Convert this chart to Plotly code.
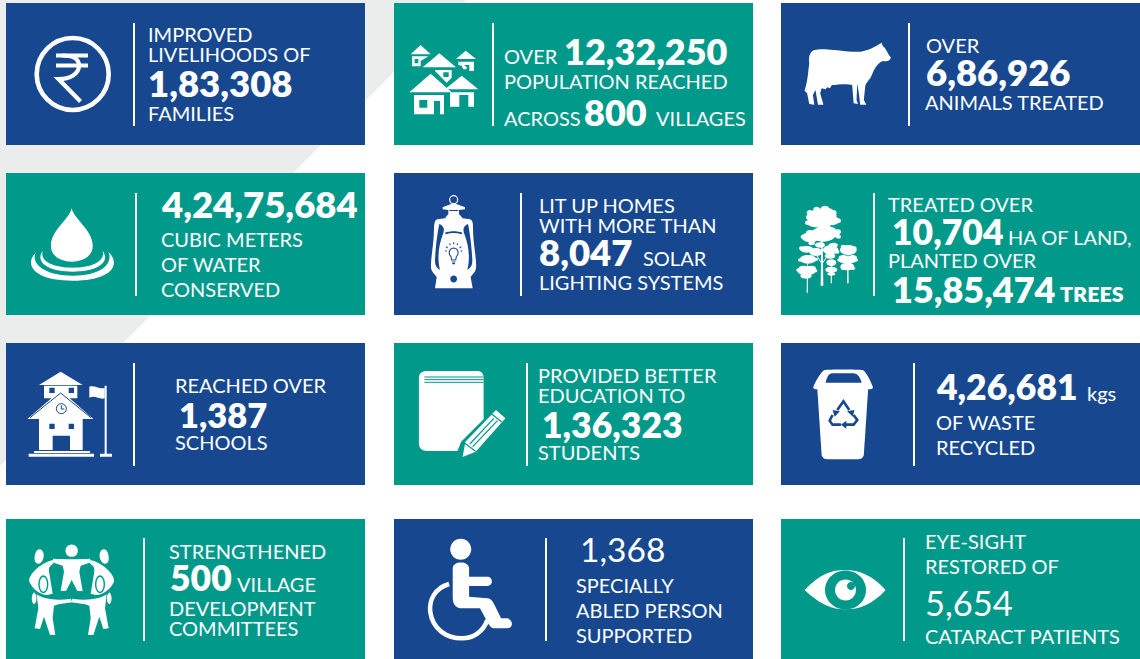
import re
import plotly.graph_objects as go

# ---------- content ----------
LIVELIHOOD_TEXT = ["IMPROVED", "LIVELIHOODS OF", "1,83,308", "FAMILIES"]
POPULATION_TEXT = ["OVER", "12,32,250", "POPULATION REACHED", "ACROSS", "800", "VILLAGES"]
ANIMAL_TEXT = ["OVER", "6,86,926", "ANIMALS TREATED"]
WATER_TEXT = ["4,24,75,684", "CUBIC METERS", "OF WATER", "CONSERVED"]
SOLAR_TEXT = ["LIT UP HOMES", "WITH MORE THAN", "8,047", "SOLAR", "LIGHTING SYSTEMS"]
LAND_TEXT = ["TREATED OVER", "10,704", "HA OF LAND,", "PLANTED OVER", "15,85,474", "TREES"]
SCHOOL_TEXT = ["REACHED OVER", "1,387", "SCHOOLS"]
EDUCATION_TEXT = ["PROVIDED BETTER", "EDUCATION TO", "1,36,323", "STUDENTS"]
WASTE_TEXT = ["4,26,681", "kgs", "OF WASTE", "RECYCLED"]
COMMITTEE_TEXT = ["STRENGTHENED", "500", "VILLAGE", "DEVELOPMENT", "COMMITTEES"]
ABLED_TEXT = ["1,368", "SPECIALLY", "ABLED PERSON", "SUPPORTED"]
EYE_TEXT = ["EYE-SIGHT", "RESTORED OF", "5,654", "CATARACT PATIENTS"]

TILE_TEXTS = [LIVELIHOOD_TEXT, POPULATION_TEXT, ANIMAL_TEXT, WATER_TEXT, SOLAR_TEXT, LAND_TEXT,
              SCHOOL_TEXT, EDUCATION_TEXT, WASTE_TEXT, COMMITTEE_TEXT, ABLED_TEXT, EYE_TEXT]

# ---------- styling / layout (pixels) ----------
BLUE, TEAL, GREY, WHITE = "#17488f", "#00998a", "#ebecec", "#ffffff"
FONT = "Lato"
COL_X = [(6, 365), (394, 753), (781, 1140)]
ROW_Y = [(3, 145), (173, 315), (343, 485), (519, 659)]
TILE_COLORS = [BLUE, TEAL, BLUE, TEAL, BLUE, TEAL, BLUE, TEAL, BLUE, TEAL, BLUE, TEAL]
SEPARATOR_X = [134, 493, 909, 136, 521, 874, 134, 527, 914, 144, 546, 904]
SEPARATOR_Y = [(23, 126), (193, 296), (363, 466), (538, 641)]

R, B = 400, 800
C = 20
TEXT_POS = [
    [(149, 35, C, R), (149, 55, C, R), (149, 84, 36.5, B), (149, 114, C, R)],
    [(505, 57, C, R), (565, 52, 36, B), (505, 82, C, R), (505, 119, C, R), (585, 113, 36, B), (657, 119, C, R)],
    [(927, 46, C, R), (927, 73, 36.5, B), (926, 103, C, R)],
    [(162, 205, 36.5, B), (162, 240, C, R), (162, 265, C, R), (162, 290, C, R)],
    [(540, 206, C, R), (540, 226, C, R), (540, 253, 36.5, B), (644, 259, C, R), (540, 283, C, R)],
    [(889, 205, C, R), (893, 232, 35.5, B), (1009, 238, C, R), (889, 261, C, R), (893, 290, 36, B), (1061, 295, 21.5, B)],
    [(176, 386, C, R), (180, 415, 34.5, B), (176, 443, C, R)],
    [(539, 376, C, R), (539, 396, C, R), (543, 425, 35.5, B), (539, 453, C, R)],
    [(937, 387, 35.5, B), (1088, 394, C, R), (937, 423, C, R), (937, 448, C, R)],
    [(170, 552, C, R), (171, 578, 35.5, B), (238, 585, C, R), (170, 609, C, R), (170, 629, C, R)],
    [(581, 550, 33.5, R), (577, 586, C, R), (577, 611, C, R), (577, 636, C, R)],
    [(926, 542, C, R), (926, 567, C, R), (926, 603, 34.5, R), (926, 637, C, R)],
]

shapes = []


def to_px(path, ox, oy, sx=1 / 3, sy=1 / 3):
    nums = iter(re.findall(r"[A-Za-z]|-?\d+\.?\d*", path))
    out, pending = [], None
    for tok in nums:
        if tok.isalpha():
            out.append(tok)
        elif pending is None:
            pending = float(tok)
        else:
            out.append(f"{ox + pending * sx:.2f},{oy + float(tok) * sy:.2f}")
            pending = None
    return " ".join(out)


def mirror(path, cx):
    toks = re.findall(r"[A-Za-z]|-?\d+\.?\d*", path)
    out, is_x = [], True
    for t in toks:
        if t.isalpha():
            out.append(t)
        else:
            out.append(str(2 * cx - float(t)) if is_x else t)
            is_x = not is_x
    return " ".join(out)


def fill(path, color=WHITE, rule="evenodd"):
    shapes.append(dict(type="path", path=path, fillcolor=color, line=dict(width=0), fillrule=rule, layer="above"))


def stroke(path, color=WHITE, width=1.0):
    shapes.append(dict(type="path", path=path, fillcolor="rgba(0,0,0,0)", line=dict(color=color, width=width), layer="above"))


def ellipse(cx, cy, rx, ry=None):
    ry = rx if ry is None else ry
    k = 0.5523
    return (f"M {cx - rx:.2f},{cy:.2f} C {cx - rx:.2f},{cy - k * ry:.2f} {cx - k * rx:.2f},{cy - ry:.2f} {cx:.2f},{cy - ry:.2f} "
            f"C {cx + k * rx:.2f},{cy - ry:.2f} {cx + rx:.2f},{cy - k * ry:.2f} {cx + rx:.2f},{cy:.2f} "
            f"C {cx + rx:.2f},{cy + k * ry:.2f} {cx + k * rx:.2f},{cy + ry:.2f} {cx:.2f},{cy + ry:.2f} "
            f"C {cx - k * rx:.2f},{cy + ry:.2f} {cx - rx:.2f},{cy + k * ry:.2f} {cx - rx:.2f},{cy:.2f} Z")


# ---------- background ----------
fill("M 0,0 L 466,0 L 0,466 Z", GREY)
for i, color in enumerate(TILE_COLORS):
    x0, x1 = COL_X[i % 3]
    y0, y1 = ROW_Y[i // 3]
    shapes.append(dict(type="rect", x0=x0, x1=x1, y0=y0, y1=y1, fillcolor=color, line=dict(width=0), layer="above"))
    sep = SEPARATOR_X[i]
    sy0, sy1 = SEPARATOR_Y[i // 3]
    shapes.append(dict(type="line", x0=sep, x1=sep, y0=sy0, y1=sy1, line=dict(color=WHITE, width=2), layer="above"))

# ---------- icons ----------
# rupee
stroke(ellipse(72.7, 74, 36), WHITE, 4.6)
stroke("M 56,55.5 L 88,55.5 M 56,65.5 L 88,65.5", WHITE, 4)
stroke("M 62,55.5 C 72,55.5 79,58 79,65.5 C 79,74 70,79 58.5,79 L 80.5,101.5", WHITE, 4.2)

# villages
o = (400, 35)
for p in [
    "M 62 30 L 92 58 L 32 58 Z",
    "M 36 64 L 85 64 L 62 78 L 62 94 L 36 94 Z M 44 72 L 55 72 L 55 85 L 44 85 Z",
    "M 118 55 L 168 97 L 68 97 Z",
    "M 105 105 L 155 105 L 155 128 L 140 143 L 105 108 Z M 130 112 L 146 112 L 146 126 L 130 126 Z",
    "M 197 47 L 228 72 L 168 72 Z",
    "M 175 80 L 222 80 L 222 108 L 208 108 L 208 90 L 192 90 L 200 96 L 200 103 L 190 103 L 185 92 L 175 90 Z",
    "M 92 116 L 155 172 L 28 172 Z",
    "M 42 180 L 132 180 L 132 238 L 120 238 L 120 198 L 102 198 L 102 238 L 42 238 Z M 58 195 L 82 195 L 82 218 L 58 218 Z",
    "M 185 122 L 235 163 L 135 163 Z",
    "M 150 172 L 222 172 L 222 215 L 205 215 L 205 180 L 178 180 L 178 215 L 150 215 Z",
]:
    fill(to_px(p, *o))

# cow
fill(to_px("M 672 150 C 700 142 760 158 800 155 C 820 152 840 140 850 133 L 857 128 L 860 138 C 870 145 872 160 882 172 "
           "C 882 182 870 186 860 183 C 845 190 838 205 830 225 C 825 240 815 245 812 258 L 808 300 L 815 314 L 798 314 "
           "L 795 285 L 790 250 L 788 300 L 792 312 L 780 310 L 776 255 C 760 250 735 255 720 255 L 715 265 L 708 262 L 702 268 "
           "L 692 265 L 688 280 L 697 314 L 682 314 L 675 270 L 668 285 L 672 314 L 658 312 L 652 280 L 645 272 "
           "C 655 240 655 210 658 190 C 655 170 660 155 672 150 Z", 570, 0, 1 / 2.75, 1 / 3))

# drop
o = (0, 0, 1 / 2.75, 1 / 3)
fill(to_px("M 197 625 C 190 660 140 690 140 738 C 140 770 170 785 197 785 C 225 785 255 770 255 738 C 255 690 205 660 197 625 Z", *o))
fill(to_px("M 118 752 C 95 785 130 815 200 815 C 270 815 305 785 282 752 C 290 780 260 803 200 803 C 140 803 108 780 118 752 Z", *o))
fill(to_px("M 98 758 C 65 795 95 842 200 842 C 305 842 335 795 298 755 C 312 790 280 827 200 827 C 120 827 85 790 98 758 Z", *o))

# lantern
o = (420, 190)
stroke(ellipse(420 + 101 / 3, 190 + 29 / 3, 4), WHITE, 1.2)
fill(to_px("M 68 52 L 101 39 L 135 52 L 135 58 L 117 60 L 117 72 L 128 85 L 150 88 C 162 92 158 110 160 140 "
           "C 163 180 170 210 168 235 C 166 248 155 255 152 262 L 158 295 L 45 295 L 50 262 C 47 255 36 248 33 235 "
           "C 32 210 38 180 41 140 C 43 110 40 92 52 88 L 75 85 L 85 72 L 85 60 L 68 58 Z", *o))
for p in ["M 58 102 C 72 108 75 118 68 135 C 58 160 50 200 60 240 C 48 232 45 225 45 210 C 47 170 52 130 58 102 Z",
          "M 144 102 C 130 108 127 118 134 135 C 144 160 152 200 142 240 C 154 232 157 225 157 210 C 155 170 150 130 144 102 Z",
          "M 75 128 C 90 122 112 122 127 128 L 125 133 C 110 128 92 128 77 133 Z",
          "M 88 60 L 115 60 L 115 63 L 88 63 Z"]:
    fill(to_px(p, *o), BLUE)
fill(ellipse(420 + 101 / 3, 190 + 267 / 3, 3.4), BLUE)
stroke(to_px("M 93 200 C 85 192 85 176 101 174 C 117 176 117 192 109 200 L 107 210 L 95 210 Z "
             "M 96 216 L 106 216 M 97 221 L 105 221 M 75 182 L 80 184 M 78 170 L 83 174 M 89 160 L 91 165 "
             "M 101 157 L 101 163 M 113 160 L 111 165 M 124 170 L 119 174 M 127 182 L 122 184", *o), BLUE, 1.1)

# trees
o = (790, 200)
CROWNS = [(98, 48, 42, 23), (72, 52, 24, 14), (122, 62, 26, 14), (88, 72, 34, 11), (112, 38, 20, 14),
          (100, 103, 38, 22), (62, 112, 27, 15), (132, 100, 18, 12), (115, 88, 22, 8),
          (50, 148, 20, 10), (78, 156, 20, 12), (122, 150, 23, 14), (120, 168, 16, 8),
          (54, 178, 25, 13), (50, 212, 28, 14), (48, 228, 17, 8), (40, 205, 14, 8), (65, 205, 13, 8),
          (124, 188, 15, 10), (124, 209, 18, 9), (124, 222, 12, 5),
          (175, 150, 25, 15), (172, 180, 28, 11), (172, 200, 21, 11), (160, 172, 14, 7), (188, 172, 13, 7),
          (60, 38, 10, 8), (80, 28, 10, 8), (105, 24, 12, 7), (130, 38, 10, 8), (145, 62, 8, 7), (55, 68, 10, 7),
          (110, 80, 12, 6), (42, 110, 10, 7), (60, 97, 12, 7), (145, 95, 8, 7), (145, 110, 8, 6), (35, 145, 8, 6),
          (65, 130, 10, 6), (90, 135, 15, 8), (130, 135, 14, 7), (142, 155, 6, 6), (30, 180, 6, 5), (78, 178, 6, 5),
          (25, 210, 6, 5), (76, 212, 6, 5), (160, 140, 8, 6), (192, 145, 8, 6), (148, 180, 6, 5), (198, 180, 6, 5),
          (160, 205, 8, 5), (188, 205, 8, 5)]
fill(" ".join(ellipse(o[0] + c[0] / 3, o[1] + c[1] / 3, c[2] / 3, c[3] / 3) for c in CROWNS), WHITE, "nonzero")
fill(to_px("M 92 257 L 100 257 L 98 120 L 94 120 Z M 50 278 L 54 278 L 53 190 L 51 190 Z "
           "M 122 250 L 126 250 L 125 190 L 123 190 Z M 171 250 L 176 250 L 175 160 L 173 160 Z", *o), WHITE, "nonzero")
stroke(to_px("M 95 190 L 70 150 M 97 190 L 125 150", *o), WHITE, 1)

# school
o = (20, 365)
fill(to_px("M 122 20 L 188 60 L 57 60 Z M 72 62 L 172 62 L 172 100 L 72 100 Z", *o), WHITE, "nonzero")
fill(to_px("M 122 76 L 220 162 L 22 162 Z M 57 150 L 188 150 L 188 255 L 57 255 Z", *o), WHITE, "nonzero")
stroke(to_px("M 30 158 L 122 84 L 213 158", *o), BLUE, 1)
fill(to_px("M 88 68 L 104 68 L 104 84 L 88 84 Z M 146 68 L 162 68 L 162 84 L 146 84 Z M 88 176 L 104 176 L 104 192 L 88 192 Z "
           "M 146 176 L 162 176 L 162 192 L 146 192 Z M 98 212 L 150 212 L 150 255 L 98 255 Z", *o), BLUE)
stroke(ellipse(20 + 124 / 3, 365 + 131 / 3, 5), BLUE, 1)
stroke(to_px("M 124 121 L 124 132 L 133 132", *o), BLUE, 1)
fill(to_px("M 42 258 L 210 258 L 210 264 L 42 264 Z M 26 266 L 222 266 L 222 275 L 26 275 Z", *o))
fill(to_px("M 254 62 L 260 62 L 260 266 L 254 266 Z M 240 266 L 276 266 L 276 275 L 240 275 Z", *o), WHITE, "nonzero")
fill(to_px("M 208 65 C 225 60 240 75 254 68 L 254 100 C 240 105 225 90 208 98 Z", *o))

# book and pencil
o = (0, 330, 1 / 2.75, 1 / 3)
fill(to_px("M 1175 123 L 1310 123 C 1325 123 1330 130 1330 145 L 1330 268 L 1268 335 L 1258 363 L 1175 363 "
           "C 1160 363 1152 355 1152 340 L 1152 145 C 1152 130 1160 123 1175 123 Z", *o))
stroke(to_px("M 1167 141 L 1330 141 M 1167 149 L 1330 149 M 1167 157 L 1330 157", *o), TEAL, 1)
fill(to_px("M 1272 381 L 1280 335 L 1364 240 L 1390 265 L 1308 365 Z", *o))
stroke(to_px("M 1292 342 L 1358 265 M 1300 350 L 1368 272 M 1278 340 L 1308 364 M 1352 252 L 1380 276", *o), TEAL, 1.2)

# bin
o = (570, 330, 1 / 2.75, 1 / 3)
fill(to_px("M 680 175 L 820 175 L 808 375 C 805 385 800 388 790 388 L 710 388 C 700 388 695 385 692 375 Z", *o))
fill(to_px("M 700 120 C 710 118 790 118 805 120 C 815 125 830 160 833 172 C 833 178 825 178 820 178 L 680 178 "
           "C 675 178 669 178 669 172 C 672 160 690 125 700 120 Z "
           "M 720 130 L 780 130 C 795 132 800 150 802 158 L 703 158 C 705 150 708 132 720 130 Z", *o))
stroke(to_px("M 735 240 L 752 214 L 768 240 M 722 255 L 714 272 L 722 284 L 745 284 M 758 284 L 780 284 L 790 270 L 780 255", *o), BLUE, 2.6)
fill(to_px("M 722 240 L 742 244 L 728 260 Z M 762 244 L 782 240 L 778 260 Z M 760 272 L 760 296 L 745 284 Z", *o), BLUE)

# people
o = (20, 515)
fill(ellipse(20 + 155 / 3, 515 + 107 / 3, 6.2))
fill(to_px("M 100 131 C 125 133 185 133 210 131 L 213 142 L 182 152 L 178 170 L 188 228 L 172 228 L 155 195 L 138 228 L 122 228 L 132 170 L 128 152 L 97 142 Z", *o))
LEFT_BODY = "M 50 238 C 70 252 110 258 153 251 L 156 262 L 115 268 L 102 272 L 98 310 L 106 360 L 90 360 L 72 305 L 60 342 L 44 340 L 55 280 Z"
LEFT_SIDE = "M 98 135 L 100 146 C 88 152 85 160 88 175 L 98 236 L 82 240 C 60 238 40 225 28 200 C 24 180 60 145 98 135 Z"
HEAD_L = "M 58 103 C 72 103 74 125 68 135 C 62 150 46 149 44 135 C 42 122 48 103 58 103 Z"
LOW_L = "M 42 232 C 52 240 52 262 42 268 C 33 262 33 240 42 232 Z"
for p in [LEFT_BODY, LEFT_SIDE, HEAD_L, LOW_L]:
    fill(to_px(p, *o))
    fill(to_px(mirror(p, 155), *o))
for cx in (70, 240):
    fill(ellipse(20 + cx / 3, 515 + 208 / 3, 5, 9), TEAL)
    fill(ellipse(20 + cx / 3, 515 + 208 / 3, 3.6, 7.4), WHITE)

# wheelchair
o = (0, 330, 1 / 2.75, 1 / 3)
fill(ellipse(1267 / 2.75, 330 + 658 / 3, 10.5))
fill(to_px("M 1245 715 C 1245 692 1290 692 1290 715 L 1290 740 L 1340 740 C 1357 740 1357 768 1340 768 L 1290 768 L 1290 800 "
           "L 1340 805 C 1350 805 1355 815 1360 825 L 1378 865 L 1395 865 C 1412 870 1412 895 1395 895 L 1360 895 "
           "C 1350 895 1345 885 1340 875 L 1320 835 L 1265 835 C 1250 830 1245 820 1245 800 Z", *o))
stroke(to_px("M 1235 762 C 1195 775 1180 810 1183 845 C 1190 900 1230 925 1270 925 C 1300 925 1330 905 1340 870", *o), WHITE, 4.5)

# eye
o = (570, 330, 1 / 2.75, 1 / 3)
fill(to_px("M 645 780 C 690 730 720 720 757 720 C 795 720 830 735 868 780 C 830 825 795 838 757 838 C 720 838 690 825 645 780 Z", *o))
fill(ellipse(845.5, 590, 20.5, 19.5), TEAL)
fill(ellipse(845.5, 590, 10.5))
fill(ellipse(851, 586, 4), TEAL)

# ---------- text ----------
annotations = []
for lines, positions in zip(TILE_TEXTS, TEXT_POS):
    for text, (x, cy, size, weight) in zip(lines, positions):
        annotations.append(dict(x=x, y=cy, text=text, showarrow=False, xanchor="left", yanchor="middle", align="left",
                                xshift=-0.8, yshift=1,
                                font=dict(family=FONT, size=size, color=WHITE, weight=weight),
                                borderpad=0, borderwidth=0))

fig = go.Figure()
fig.update_layout(
    width=1140, height=659, margin=dict(l=0, r=0, t=0, b=0), showlegend=False,
    paper_bgcolor=WHITE, plot_bgcolor=WHITE,
    xaxis=dict(range=[0, 1140], visible=False, fixedrange=True),
    yaxis=dict(range=[659, 0], visible=False, fixedrange=True),
    shapes=shapes, annotations=annotations,
)
fig.write_html("out.html", config=dict(displayModeBar=False),
               post_script="document.body.style.margin='0';document.body.style.overflow='hidden';")
